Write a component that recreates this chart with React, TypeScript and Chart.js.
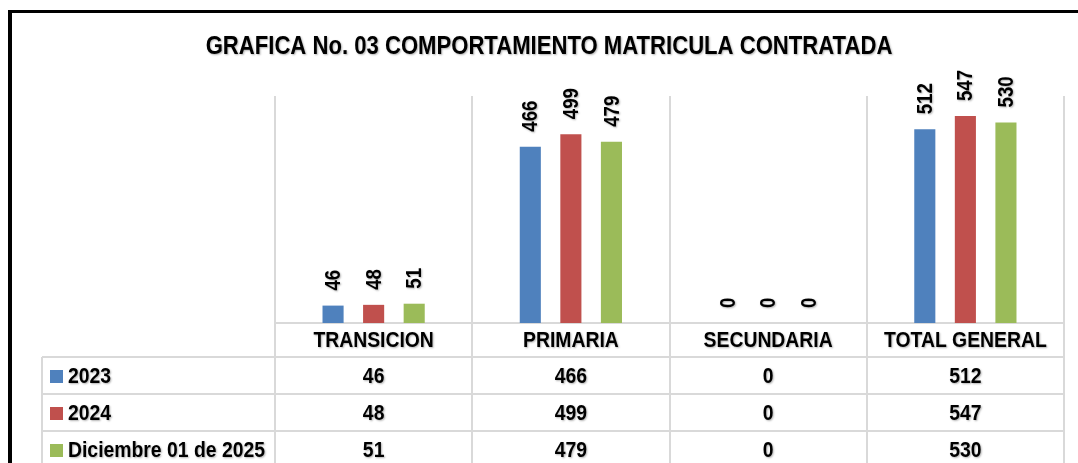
import React, { useEffect, useRef } from "react";
import { Chart, registerables } from "chart.js";

Chart.register(...registerables);

const titleText = "GRAFICA No. 03 COMPORTAMIENTO MATRICULA CONTRATADA";
const categories = ["TRANSICION", "PRIMARIA", "SECUNDARIA", "TOTAL GENERAL"];
const seriesNames = ["2023", "2024", "Diciembre 01 de 2025"];
const values2023 = [46, 466, 0, 512];
const values2024 = [48, 499, 0, 547];
const values2025 = [51, 479, 0, 530];
const seriesColors = ["#4F81BD", "#C0504D", "#9BBB59"];

const FONT_FAMILY = '"Liberation Sans", Arial, sans-serif';
const GRID = "#d9d9d9";

function setShadow(ctx: CanvasRenderingContext2D) {
  ctx.shadowColor = "rgba(0,0,0,0.3)";
  ctx.shadowBlur = 2;
  ctx.shadowOffsetX = 1;
  ctx.shadowOffsetY = 1;
}

function narrowText(
  ctx: CanvasRenderingContext2D,
  text: string,
  x: number,
  y: number,
  align: CanvasTextAlign,
  factor: number,
  rotate = 0
) {
  ctx.save();
  ctx.translate(x, y);
  if (rotate) ctx.rotate(rotate);
  ctx.scale(factor, 1);
  ctx.textAlign = align;
  ctx.fillText(text, 0, 0);
  ctx.restore();
}

const decorPlugin = {
  id: "decor",
  beforeDatasetsDraw(chart: any) {
    const { ctx, chartArea, scales } = chart;
    const x = scales.x;
    const n = categories.length;
    const cw = (chartArea.right - chartArea.left) / n;
    const tableLeft = 42;
    const headerH = 34;
    const rowH = 37;
    const bottom = chart.height + 20;
    ctx.save();
    // frame
    ctx.fillStyle = "#000";
    ctx.fillRect(8, 10, 4, chart.height);
    ctx.fillRect(8, 10, chart.width, 3);
    // grid
    ctx.strokeStyle = GRID;
    ctx.lineWidth = 2;
    ctx.beginPath();
    for (let i = 0; i <= n; i++) {
      const px = Math.round(chartArea.left + i * cw);
      ctx.moveTo(px, chartArea.top);
      ctx.lineTo(px, bottom);
    }
    ctx.moveTo(tableLeft, chartArea.bottom + headerH);
    ctx.lineTo(tableLeft, bottom);
    ctx.moveTo(chartArea.left, chartArea.bottom);
    ctx.lineTo(chartArea.right, chartArea.bottom);
    for (let r = 0; r <= seriesNames.length; r++) {
      const py = Math.round(chartArea.bottom + headerH + r * rowH);
      ctx.moveTo(tableLeft, py);
      ctx.lineTo(chartArea.right, py);
    }
    ctx.stroke();

    // table text
    setShadow(ctx);
    ctx.fillStyle = "#000";
    ctx.font = `bold 22px ${FONT_FAMILY}`;
    ctx.textBaseline = "middle";
    categories.forEach((c, i) => {
      narrowText(ctx, c, x.getPixelForValue(i), chartArea.bottom + headerH / 2 + 1, "center", 0.88);
    });
    chart.data.datasets.forEach((ds: any, r: number) => {
      const cy = chartArea.bottom + headerH + r * rowH + rowH / 2 + 1;
      ds.data.forEach((v: number, i: number) => {
        narrowText(ctx, String(v), x.getPixelForValue(i), cy, "center", 0.88);
      });
      narrowText(ctx, ds.label, 68, cy, "left", 0.88);
      ctx.save();
      ctx.shadowColor = "transparent";
      ctx.fillStyle = ds.backgroundColor;
      ctx.fillRect(50, Math.round(cy - 7), 13, 13);
      ctx.restore();
    });

    // title
    ctx.font = `bold 26px ${FONT_FAMILY}`;
    narrowText(ctx, titleText, 549, 47, "center", 0.85);
    ctx.restore();
  },
  afterDatasetsDraw(chart: any) {
    const { ctx } = chart;
    ctx.save();
    setShadow(ctx);
    ctx.fillStyle = "#000";
    ctx.font = `bold 22px ${FONT_FAMILY}`;
    ctx.textBaseline = "middle";
    chart.data.datasets.forEach((ds: any, di: number) => {
      const meta = chart.getDatasetMeta(di);
      meta.data.forEach((bar: any, i: number) => {
        narrowText(ctx, String(ds.data[i]), bar.x + 1, bar.y - 15, "left", 0.85, -Math.PI / 2);
      });
    });
    ctx.restore();
  },
};

export default function App() {
  const ref = useRef<HTMLCanvasElement | null>(null);
  useEffect(() => {
    if (!ref.current) return;
    const chart = new Chart(ref.current, {
      type: "bar",
      data: {
        labels: categories,
        datasets: [values2023, values2024, values2025].map((d, i) => ({
          label: seriesNames[i],
          data: d,
          backgroundColor: seriesColors[i],
          borderWidth: 0,
          categoryPercentage: 0.617,
          barPercentage: 0.52,
        })),
      },
      options: {
        responsive: false,
        animation: false,
        layout: { padding: { left: 275, right: 14, top: 96, bottom: 140 } },
        plugins: { legend: { display: false }, title: { display: false }, tooltip: { enabled: false } },
        scales: {
          x: { display: false },
          y: { display: false, min: 0, max: 600 },
        },
      },
      plugins: [decorPlugin],
    });
    return () => chart.destroy();
  }, []);
  return (
    <div style={{ position: "absolute", left: 0, top: 0, width: 1078, height: 463, background: "#fff" }}>
      <canvas ref={ref} width={1078} height={463} />
    </div>
  );
}
